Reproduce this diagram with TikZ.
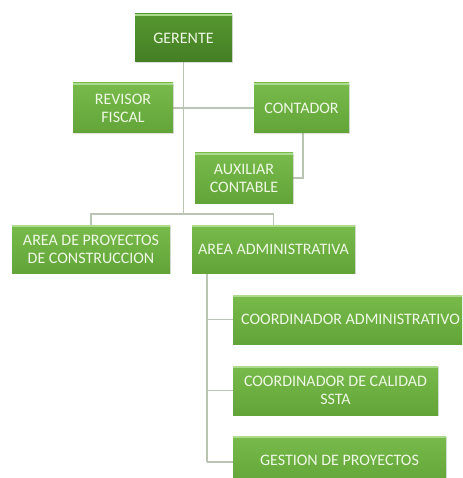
\documentclass[tikz,border=0pt]{standalone}
\usepackage{fontspec}
\setmainfont{Carlito}
\usetikzlibrary{
		shadows,
		backgrounds
	}
\definecolor{boxgreen}{HTML}{78BB4B}
\definecolor{boxgreendark}{HTML}{62A438}
\definecolor{headgreen}{HTML}{56962F}
\definecolor{headgreendark}{HTML}{447F25}
\definecolor{boxtop}{HTML}{ACDB8E}
\definecolor{boxtext}{HTML}{EEF8E4}
\definecolor{linkgray}{HTML}{BAC4B3}

\begin{document}
\begin{tikzpicture}[x=1pt, y=-1pt,
					unit/.style={rectangle, inner sep=2pt, align=center, text=boxtext,
						font=\fontsize{16}{18}\selectfont,
						top color=boxgreen, bottom color=boxgreendark,
						drop shadow={opacity=0.25, shadow xshift=1.2pt, shadow yshift=-1.2pt},
						path picture={\fill[boxtop] (path picture bounding box.north west) rectangle ([yshift=-1.8pt]path picture bounding box.north east);}},
					head/.style={unit, top color=headgreen, bottom color=headgreendark},
					link/.style={draw=linkgray, line width=1.4pt}]
		\useasboundingbox (0,0) rectangle (462,478);
		\clip (0,0) rectangle (462,478);
		% boxes
		\node[head, minimum width=97pt, minimum height=48pt] (gerente) at (183.5,38) {GERENTE};
		\node[unit, minimum width=100pt, minimum height=50pt] (revisor) at (123,108) {REVISOR\\FISCAL};
		\node[unit, minimum width=95pt, minimum height=50pt] (contador) at (301.5,108) {CONTADOR};
		\node[unit, minimum width=98pt, minimum height=50pt] (auxiliar) at (244,178) {AUXILIAR\\CONTABLE};
		\node[unit, minimum width=158pt, minimum height=48pt] (proyectos) at (91,249) {AREA DE PROYECTOS\\DE CONSTRUCCION};
		\node[unit, minimum width=163pt, minimum height=48pt] (admin) at (273.5,249) {AREA ADMINISTRATIVA};
		\node[unit, anchor=west, inner xsep=8pt, text width=234pt, align=flush left, minimum height=49pt] (coordadmin) at (233,319.5) {COORDINADOR ADMINISTRATIVO};
		\node[unit, minimum width=205pt, minimum height=49pt] (calidad) at (335.5,390.5) {COORDINADOR DE CALIDAD\\SSTA};
		\node[unit, minimum width=213pt, minimum height=49pt] (gestion) at (339.5,460.5) {GESTION DE PROYECTOS};
		% connectors
		\coordinate (bus) at (183.5,214);
		\coordinate (spine) at (207,462);
		\begin{scope}[on background layer]
		\draw[link] (gerente.south) -- (bus);
		\draw[link] (revisor.east) -- (contador.west);
		\draw[link] ([xshift=1.5pt]contador.south) |- (auxiliar.east);
		\draw[link] (proyectos.north) |- (bus) -| (admin.north);
		\draw[link] (admin.south -| spine) -- (spine);
		\draw[link] (spine |- coordadmin.west) -- (coordadmin.west);
		\draw[link] (spine |- calidad.west) -- (calidad.west);
		\draw[link] (spine) -- (spine -| gestion.west);
		\end{scope}
	\end{tikzpicture}
\end{document}
